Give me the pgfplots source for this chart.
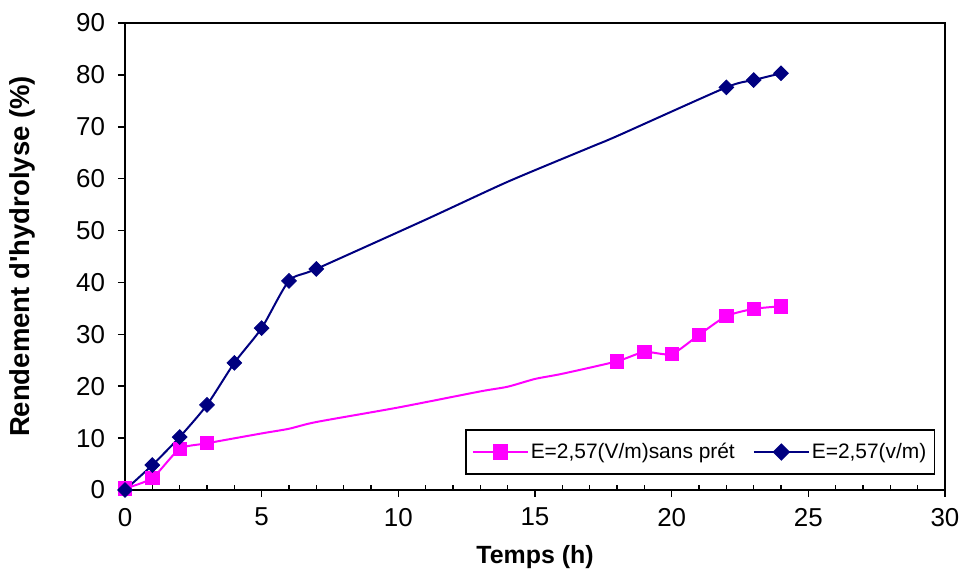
\documentclass[border=0pt]{standalone}
\usepackage{fontspec}
\setmainfont{Liberation Sans}
\usepackage{pgfplots}
\pgfplotsset{compat=1.18}
\definecolor{pinkm}{RGB}{255,0,255}
\definecolor{navyb}{RGB}{0,0,128}
\begin{document}
\begin{tikzpicture}
\begin{axis}[
  name=ax,
  scale only axis,
  width=410bp, height=233.5bp,
  xmin=0, xmax=30, ymin=0, ymax=90,
  xtick={0,5,...,30}, ytick={0,10,...,90},
  minor x tick num=4,
  tick align=outside,
  major tick length=3.5bp,
  minor tick length=2.5bp,
  minor x tick style={yshift=2.5bp},
  xtick pos=bottom, ytick pos=left,
  axis line style={line width=1.1bp},
  tick style={line width=0.8bp, black},
  /pgf/number format/assume math mode=true,
  tick label style={font=\fontsize{13}{15}\selectfont},
  xticklabel style={yshift=-2bp},
  yticklabel style={xshift=-3bp},
  xlabel={\textbf{Temps (h)}},
  ylabel={\textbf{Rendement d\textquotesingle hydrolyse (\%)}},
  xlabel style={font=\fontsize{12.5}{14}\selectfont, at={(rel axis cs:0.5,0)}, anchor=center, yshift=-33.5bp},
  ylabel style={font=\fontsize{13.8}{15}\selectfont, at={(rel axis cs:0,0.5)}, anchor=center, yshift=51.5bp},
  legend columns=2,
  legend style={at={(0.988,0.032)}, anchor=south east, draw=black, line width=0.8bp,
    font=\fontsize{10.5}{12}\selectfont, inner xsep=3bp, inner ysep=4.5bp,
    nodes={inner xsep=1bp},
    /tikz/every even column/.append style={column sep=8bp}},
  legend cell align=left,
  legend image code/.code={%
    \draw[#1] (0bp,0bp) -- (27.5bp,0bp);
    \draw[#1, mark repeat=1] plot coordinates {(13.75bp,0bp)};},
]
% pink line (smooth, through all points)
\addplot[pinkm, line width=1bp, smooth, tension=0.4, forget plot] coordinates {
  (0,0.3) (1,2.3) (2,7.9) (3,9.0) (5,10.9) (6,11.8) (7,13.1) (10,15.9)
  (13,19.0) (14,19.9) (15,21.4) (16,22.4) (18,24.8) (19,26.6) (20,26.2) (21,29.9)
  (22,33.5) (23,34.9) (24,35.4)};
% navy line
\addplot[navyb, line width=1bp, smooth, tension=0.4, forget plot] coordinates {
  (0,0) (1,4.8) (2,10.2) (3,16.4) (4,24.5) (5,31.2) (6,40.3) (7,42.6)
  (11,52.1) (14,59.4) (17,66.0) (18,68.2) (22,77.6) (23,79.0) (24,80.3)};
% markers
\addplot[only marks, mark=square*, mark size=3.3bp, color=pinkm, forget plot] coordinates {
  (0,0.3) (1,2.3) (2,7.9) (3,9.0) (18,24.8) (19,26.6) (20,26.2) (21,29.9)
  (22,33.5) (23,34.9) (24,35.4)};
\addplot[only marks, mark=square*, mark size=2.6bp, mark options={rotate=45}, color=navyb, forget plot] coordinates {
  (0,0) (1,4.8) (2,10.2) (3,16.4) (4,24.5) (5,31.2) (6,40.3) (7,42.6)
  (22,77.6) (23,79.0) (24,80.3)};
\addlegendimage{pinkm, line width=1bp, mark=square*, mark size=3.3bp}
\addlegendentry{E=2,57(V/m)sans prét}
\addlegendimage{navyb, line width=1bp, mark=square*, mark size=2.6bp, mark options={rotate=45}}
\addlegendentry{E=2,57(v/m)}
\end{axis}
\pgfresetboundingbox
\path ([xshift=-62.5bp,yshift=-41.5bp]ax.south west) rectangle ([xshift=7.5bp,yshift=11.5bp]ax.north east);
\end{tikzpicture}
\end{document}
